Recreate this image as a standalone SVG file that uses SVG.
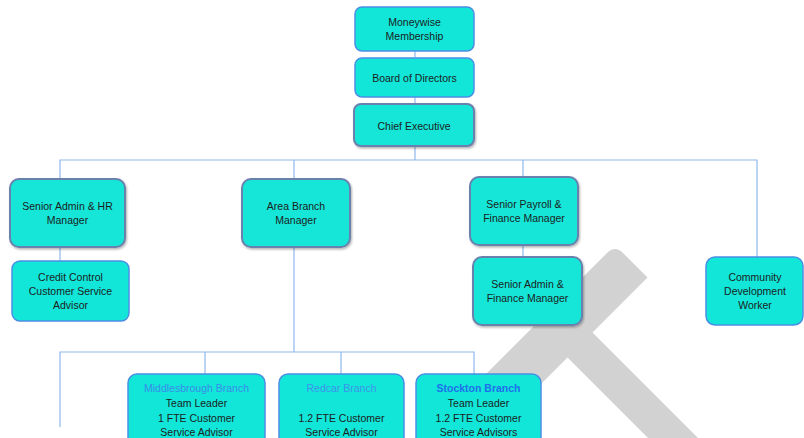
<svg xmlns="http://www.w3.org/2000/svg" width="804" height="438" viewBox="0 0 804 438">
<style>
.box{fill:#12e6d8;stroke:#4a8fe3;stroke-width:1.5}
.sh{stroke:#6a80ad;stroke-width:2}
.t{font-family:"Liberation Sans",Arial,sans-serif;font-size:10.5px;fill:#1c1c1c;text-anchor:middle;dominant-baseline:central}
.c{fill:none;stroke:#90b8ec;stroke-width:1.2}
.b1{fill:#3a8ce8}
.b2{fill:#3f93ea}
.b3{fill:#1f70ea;font-weight:bold}
</style>
<defs>
<filter id="ds" x="-10%" y="-10%" width="125%" height="130%">
<feDropShadow dx="1" dy="1.5" stdDeviation="1" flood-color="#000" flood-opacity="0.3"/>
</filter>
</defs>
<rect width="804" height="438" fill="#fff"/>
<g id="watermark" fill="#d2d2d2">
<path d="M607,253 Q615,245 623,253 L647.5,277.5 L362.5,562.5 L330,530 Z"/>
<polygon points="580,320 780,520 755,545 555,345"/>
</g>
<g id="connectors" class="c">
<line x1="415" y1="51" x2="415" y2="57"/>
<line x1="415" y1="97" x2="415" y2="104"/>
<line x1="415" y1="146" x2="415" y2="160"/>
<polyline points="60,178 60,160 757,160 757,257"/>
<line x1="294" y1="160" x2="294" y2="178"/>
<line x1="523" y1="160" x2="523" y2="177"/>
<line x1="60" y1="247" x2="60" y2="261"/>
<line x1="523" y1="245" x2="523" y2="257"/>
<line x1="294" y1="247" x2="294" y2="352"/>
<polyline points="60,427 60,352 474,352 474,374"/>
<line x1="205" y1="352" x2="205" y2="374"/>
<line x1="341" y1="352" x2="341" y2="374"/>
</g>
<g id="moneywise">
<rect class="box" x="355" y="7" width="119" height="44" rx="7"/>
<text class="t" x="414.5" y="22">Moneywise</text>
<text class="t" x="414.5" y="36">Membership</text>
</g>
<g id="board">
<rect class="box" x="355" y="58" width="119" height="39" rx="7"/>
<text class="t" x="414.5" y="77.5">Board of Directors</text>
</g>
<g id="ceo">
<rect class="box sh" filter="url(#ds)" x="354" y="104" width="120" height="42" rx="7"/>
<text class="t" x="414" y="126">Chief Executive</text>
</g>
<g id="hr">
<rect class="box sh" filter="url(#ds)" x="10" y="179" width="115" height="68" rx="9"/>
<text class="t" x="67.5" y="206">Senior Admin &amp; HR</text>
<text class="t" x="67.5" y="220">Manager</text>
</g>
<g id="credit">
<rect class="box" x="12" y="261" width="117" height="60" rx="8"/>
<text class="t" x="70.5" y="277">Credit Control</text>
<text class="t" x="70.5" y="291">Customer Service</text>
<text class="t" x="70.5" y="305">Advisor</text>
</g>
<g id="area">
<rect class="box sh" filter="url(#ds)" x="242" y="179" width="108" height="68" rx="9"/>
<text class="t" x="296" y="206">Area Branch</text>
<text class="t" x="296" y="220">Manager</text>
</g>
<g id="payroll">
<rect class="box sh" filter="url(#ds)" x="470" y="177" width="108" height="68" rx="9"/>
<text class="t" x="524" y="204">Senior Payroll &amp;</text>
<text class="t" x="524" y="218">Finance Manager</text>
</g>
<g id="adminfin">
<rect class="box sh" filter="url(#ds)" x="473" y="257" width="109" height="68" rx="9"/>
<text class="t" x="527.5" y="284">Senior Admin &amp;</text>
<text class="t" x="527.5" y="298">Finance Manager</text>
</g>
<g id="community">
<rect class="box" x="706" y="257" width="97" height="68" rx="9"/>
<text class="t" x="755" y="277">Community</text>
<text class="t" x="755" y="291">Development</text>
<text class="t" x="755" y="305">Worker</text>
</g>
<g id="middlesbrough">
<rect class="box" x="128" y="374" width="137" height="72" rx="9"/>
<text class="t b1" x="196.5" y="388">Middlesbrough Branch</text>
<text class="t" x="196.5" y="403">Team Leader</text>
<text class="t" x="196.5" y="417.5">1 FTE Customer</text>
<text class="t" x="196.5" y="432">Service Advisor</text>
</g>
<g id="redcar">
<rect class="box" x="279" y="374" width="125" height="72" rx="9"/>
<text class="t b2" x="341.5" y="388">Redcar Branch</text>
<text class="t" x="341.5" y="417.5">1.2 FTE Customer</text>
<text class="t" x="341.5" y="432">Service Advisor</text>
</g>
<g id="stockton">
<rect class="box" x="416" y="374" width="125" height="72" rx="9"/>
<text class="t b3" x="478.5" y="388">Stockton Branch</text>
<text class="t" x="478.5" y="403">Team Leader</text>
<text class="t" x="478.5" y="417.5">1.2 FTE Customer</text>
<text class="t" x="478.5" y="432">Service Advisors</text>
</g>
</svg>
